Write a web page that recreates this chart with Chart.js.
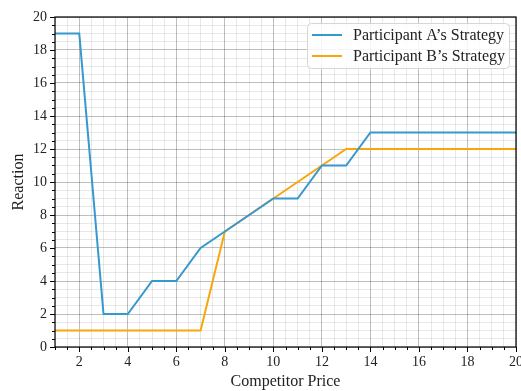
<!DOCTYPE html>
<html>
<head>
<meta charset="utf-8">
<script src="https://cdn.jsdelivr.net/npm/chart.js@4"></script>
<style>
  html, body { margin: 0; padding: 0; background: #fff; }
  #wrap { width: 521px; height: 391px; }
</style>
</head>
<body>
<div id="wrap"><canvas id="reactionChart" width="521" height="391"></canvas></div>
<script>
const prices = [1, 2, 3, 4, 5, 6, 7, 8, 9, 10, 11, 12, 13, 14, 15, 16, 17, 18, 19, 20];
const strategyA = [19, 19, 2, 2, 4, 4, 6, 7, 8, 9, 9, 11, 11, 13, 13, 13, 13, 13, 13, 13];
const strategyB = [1, 1, 1, 1, 1, 1, 1, 7, 8, 9, 10, 11, 12, 12, 12, 12, 12, 12, 12, 12];
const xTicks = [2, 4, 6, 8, 10, 12, 14, 16, 18, 20];
const yTicks = [0, 2, 4, 6, 8, 10, 12, 14, 16, 18, 20];

const serif = "'Liberation Serif', 'DejaVu Serif', serif";

// ticks every 0.5 so minor grid lines are drawn; only the listed ones get labels
function halfSteps(min, max) {
    const out = [];
    for (let v = min; v <= max + 1e-9; v += 0.5) out.push({ value: v });
    return out;
}

function gridColor(list) {
    return ctx => {
        const v = ctx.tick ? ctx.tick.value : null;
        return list.includes(v) ? 'rgba(0,0,0,0.25)' : 'rgba(0,0,0,0.09)';
    };
}

// outward tick marks, longer for the labelled ones
const tickMarks = {
    id: 'tickMarks',
    afterDraw(chart) {
        const c = chart.ctx;
        const xs = chart.scales.x, ys = chart.scales.y;
        const a = chart.chartArea;
        c.save();
        c.strokeStyle = '#000';
        c.lineWidth = 1;
        xs.ticks.forEach(t => {
            const px = Math.round(xs.getPixelForValue(t.value)) + 0.5;
            const len = xTicks.includes(t.value) ? 5 : 3;
            c.beginPath();
            c.moveTo(px, a.bottom);
            c.lineTo(px, a.bottom + len);
            c.stroke();
        });
        ys.ticks.forEach(t => {
            const py = Math.round(ys.getPixelForValue(t.value)) + 0.5;
            const len = yTicks.includes(t.value) ? 5 : 3;
            c.beginPath();
            c.moveTo(a.left, py);
            c.lineTo(a.left - len, py);
            c.stroke();
        });
        // frame
        c.lineWidth = 1.2;
        c.strokeRect(a.left, a.top, a.right - a.left, a.bottom - a.top);
        c.restore();
    }
};

const boxLegend = {
    id: 'boxLegend',
    afterDraw(chart) {
        const c = chart.ctx;
        const x = 307, y = 23, w = 202, h = 45, r = 4;
        c.save();
        c.fillStyle = 'rgba(255,255,255,0.85)';
        c.strokeStyle = '#d6d6d6';
        c.lineWidth = 1;
        c.beginPath();
        c.roundRect(x + 0.5, y + 0.5, w, h, r);
        c.fill();
        c.stroke();
        c.font = '16px ' + serif;
        c.textBaseline = 'middle';
        chart.data.datasets.forEach((ds, i) => {
            const ly = 35 + i * 21;
            c.strokeStyle = ds.borderColor;
            c.lineWidth = 2;
            c.beginPath();
            c.moveTo(312, ly);
            c.lineTo(342, ly);
            c.stroke();
            c.fillStyle = '#222';
            c.fillText(ds.label, 353, ly + 1);
        });
        c.restore();
    }
};

new Chart(document.getElementById('reactionChart').getContext('2d'), {
    type: 'line',
    data: {
        datasets: [{
            label: 'Participant A\u2019s Strategy',
            data: prices.map((p, i) => ({ x: p, y: strategyA[i] })),
            borderColor: '#3798d0',
            borderWidth: 2,
            pointRadius: 0,
            tension: 0,
            fill: false
        }, {
            label: 'Participant B\u2019s Strategy',
            data: prices.map((p, i) => ({ x: p, y: strategyB[i] })),
            borderColor: '#f7a70a',
            borderWidth: 2,
            pointRadius: 0,
            tension: 0,
            fill: false
        }]
    },
    options: {
        responsive: false,
        animation: false,
        devicePixelRatio: 1,
        layout: { padding: { top: 17, right: 5, left: 0, bottom: 0 } },
        plugins: {
            legend: { display: false },
            tooltip: { enabled: false }
        },
        scales: {
            x: {
                type: 'linear',
                min: 1,
                max: 20,
                afterBuildTicks: s => { s.ticks = halfSteps(1, 20); },
                afterFit: s => { s.height = 44; s.paddingLeft = 0; s.paddingRight = 0; },
                border: { display: false },
                grid: {
                    color: gridColor(xTicks),
                    lineWidth: 1,
                    drawTicks: false
                },
                ticks: {
                    autoSkip: false,
                    maxRotation: 0,
                    padding: 7,
                    color: '#222',
                    font: { family: serif, size: 14 },
                    callback: v => xTicks.includes(v) ? String(v) : ''
                },
                title: {
                    display: true,
                    text: 'Competitor Price',
                    color: '#222',
                    font: { family: serif, size: 16 },
                    padding: { top: 0, bottom: 0 }
                }
            },
            y: {
                type: 'linear',
                min: 0,
                max: 20,
                afterBuildTicks: s => { s.ticks = halfSteps(0, 20); },
                afterFit: s => { s.width = 55; s.paddingTop = 0; s.paddingBottom = 0; },
                border: { display: false },
                grid: {
                    color: gridColor(yTicks),
                    lineWidth: 1,
                    drawTicks: false
                },
                ticks: {
                    autoSkip: false,
                    padding: 8,
                    color: '#222',
                    font: { family: serif, size: 14 },
                    callback: v => yTicks.includes(v) ? String(v) : ''
                },
                title: {
                    display: true,
                    text: 'Reaction',
                    color: '#222',
                    font: { family: serif, size: 16 },
                    padding: { top: 9, bottom: 0 }
                }
            }
        }
    },
    plugins: [tickMarks, boxLegend]
});
</script>
</body>
</html>
